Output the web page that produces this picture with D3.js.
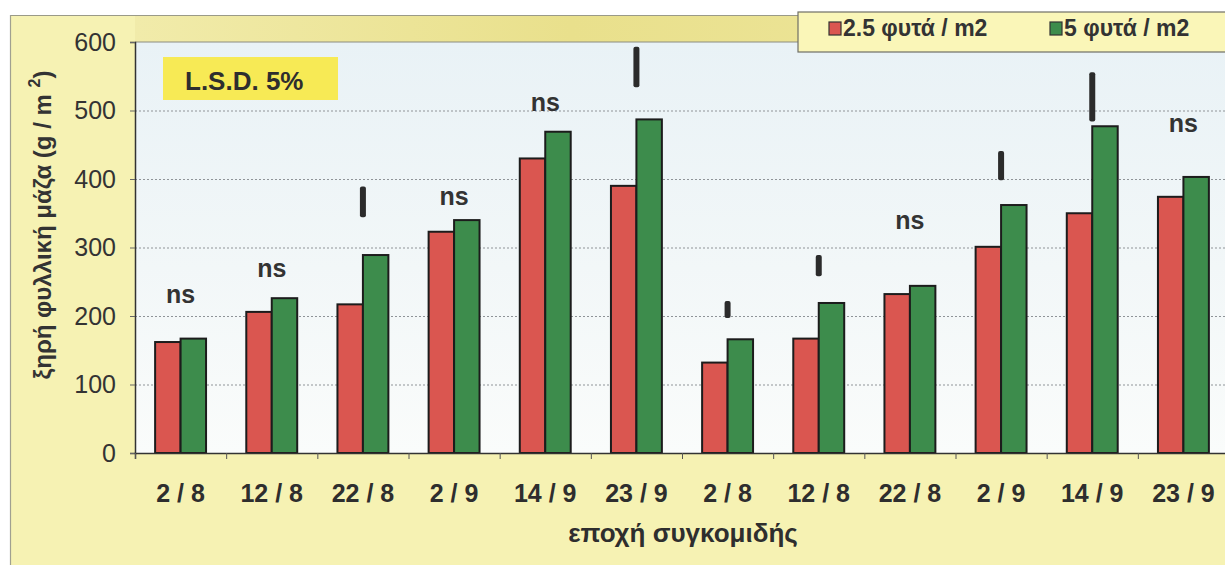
<!DOCTYPE html>
<html>
<head>
<meta charset="utf-8">
<script src="https://cdn.jsdelivr.net/npm/d3@7/dist/d3.min.js"></script>
<style>
  html, body { margin: 0; padding: 0; background: #ffffff; }
  svg { display: block; }
  text { font-family: "Liberation Sans", Arial, sans-serif; }
</style>
</head>
<body>
<svg id="chart" width="1225" height="565"></svg>
<script>
// Harvest dates (two seasons of sampling, six dates each)
const categories = ["2 / 8", "12 / 8", "22 / 8", "2 / 9", "14 / 9", "23 / 9",
                    "2 / 8", "12 / 8", "22 / 8", "2 / 9", "14 / 9", "23 / 9"];
// Dry leaf mass (g / m2) for the two plant densities
const seriesNames = ["2.5 φυτά / m2", "5 φυτά / m2"];
const lowDensity  = [162, 206, 217, 323, 430, 390, 132, 167, 232, 301, 350, 374];
const highDensity = [167, 226, 289, 340, 469, 487, 166, 219, 244, 362, 477, 403];
// Significance per date: "ns" or an L.S.D. (5%) bar
const significance = ["ns", "ns", "lsd", "ns", "ns", "lsd", "lsd", "lsd", "ns", "lsd", "lsd", "ns"];
// L.S.D. value at each date (length of the bar, g / m2)
const lsdValues = [null, null, 45, null, null, 59, 25, 31, null, 43, 72, null];
// Level (g / m2) at which each significance mark sits
const markLevels = [219, 257, 344, 362, 500, 534, 197, 258, 327, 398, 484, 469];
const yTicks = [0, 100, 200, 300, 400, 500, 600];

const svg = d3.select("#chart");
const W = 1225, H = 565;
const plot = { left: 135, right: 1229, top: 42, bottom: 453 };

const defs = svg.append("defs");
const gTop = defs.append("linearGradient").attr("id", "topBand").attr("x1", 0).attr("x2", 1).attr("y1", 0).attr("y2", 0);
gTop.append("stop").attr("offset", "0%").attr("stop-color", "#f1ebaa");
gTop.append("stop").attr("offset", "40%").attr("stop-color", "#e9e08c");
gTop.append("stop").attr("offset", "100%").attr("stop-color", "#efe8a2");
const gPlot = defs.append("linearGradient").attr("id", "plotBg").attr("x1", 0).attr("x2", 0).attr("y1", 0).attr("y2", 1);
gPlot.append("stop").attr("offset", "0%").attr("stop-color", "#e9f2f6");
gPlot.append("stop").attr("offset", "55%").attr("stop-color", "#f2f7f8");
gPlot.append("stop").attr("offset", "100%").attr("stop-color", "#fafcfb");

// Paper background with thin frame
svg.append("rect").attr("x", 10).attr("y", 15).attr("width", W - 10).attr("height", H - 15)
  .attr("fill", "#f6f2b3");
svg.append("line").attr("x1", 10).attr("x2", W).attr("y1", 15.5).attr("y2", 15.5)
  .attr("stroke", "#9a9a88").attr("stroke-width", 1.2);
svg.append("line").attr("x1", 10.5).attr("x2", 10.5).attr("y1", 15).attr("y2", H)
  .attr("stroke", "#a0a090").attr("stroke-width", 1.2);
svg.append("rect").attr("x", plot.left).attr("y", 16).attr("width", W - plot.left).attr("height", plot.top - 16)
  .attr("fill", "url(#topBand)");

// Plot area
svg.append("rect").attr("x", plot.left).attr("y", plot.top)
  .attr("width", plot.right - plot.left).attr("height", plot.bottom - plot.top)
  .attr("fill", "url(#plotBg)");
svg.append("line").attr("x1", plot.left).attr("x2", W).attr("y1", plot.top).attr("y2", plot.top)
  .attr("stroke", "#8c8c80").attr("stroke-width", 1);

const y = d3.scaleLinear().domain([0, 600]).range([plot.bottom, plot.top]);
const x = d3.scaleBand().domain(d3.range(categories.length)).range([plot.left, plot.right]).padding(0);
const xs = d3.scaleBand().domain([0, 1]).range([0, x.bandwidth()]).paddingInner(0).paddingOuter(0.79);
const xEdges = d3.scaleLinear().domain([0, categories.length]).range([plot.left, plot.right]);

// Dotted gridlines
svg.append("g").selectAll("line")
  .data(yTicks.filter(v => v > 0 && v < 600))
  .join("line")
  .attr("x1", plot.left).attr("x2", plot.right)
  .attr("y1", d => y(d) + 0.5).attr("y2", d => y(d) + 0.5)
  .attr("stroke", "#8f9498").attr("stroke-width", 1.2).attr("stroke-dasharray", "2,2");

// Bars
const colors = ["#da5650", "#3d8c4c"];
const values = [lowDensity, highDensity];
const barG = svg.append("g");
values.forEach((vals, s) => {
  barG.selectAll(null)
    .data(vals)
    .join("rect")
    .attr("x", (d, i) => x(i) + xs(s))
    .attr("y", d => y(d))
    .attr("width", xs.bandwidth())
    .attr("height", d => y(0) - y(d))
    .attr("fill", colors[s])
    .attr("stroke", "#1c1c1c")
    .attr("stroke-width", 2);
});

// Y axis
const yAxis = svg.append("g").attr("transform", `translate(${plot.left},0)`)
  .call(d3.axisLeft(y).tickValues(yTicks).tickSize(5).tickPadding(14));
yAxis.select(".domain").attr("stroke", "#333").attr("stroke-width", 1.5);
yAxis.selectAll(".tick line").attr("stroke", "#666");
yAxis.selectAll("text").attr("font-size", 25).attr("fill", "#333")
  .style("font-family", "'Liberation Sans', Arial, sans-serif");

// X axis: tick marks between dates
const xTickAxis = svg.append("g").attr("transform", `translate(0,${plot.bottom})`)
  .call(d3.axisBottom(xEdges).ticks(categories.length).tickSize(6).tickFormat(""));
xTickAxis.select(".domain").attr("stroke", "#333").attr("stroke-width", 1.5);
xTickAxis.selectAll(".tick line").attr("stroke", "#555");

// X axis: date labels
const xLab = svg.append("g").attr("transform", `translate(0,${plot.bottom})`)
  .call(d3.axisBottom(x).tickSize(0).tickPadding(31).tickFormat(i => categories[i]));
xLab.select(".domain").remove();
xLab.selectAll("text").attr("font-size", 25).attr("font-weight", "bold").attr("fill", "#2e2e2e")
  .style("font-family", "'Liberation Sans', Arial, sans-serif");

// Significance marks
const marks = svg.append("g");
significance.forEach((kind, i) => {
  const cx = x(i) + x.bandwidth() / 2;
  if (kind === "ns") {
    marks.append("text").attr("x", cx).attr("y", y(markLevels[i]))
      .attr("text-anchor", "middle").attr("font-size", 25).attr("font-weight", "bold")
      .attr("fill", "#333").text("ns");
  } else {
    const top = y(markLevels[i] + lsdValues[i]);
    marks.append("rect").attr("x", cx - 3).attr("y", top)
      .attr("width", 6).attr("height", y(markLevels[i]) - top)
      .attr("rx", 2).attr("fill", "#2b2b2b");
  }
});

// L.S.D. label box
svg.append("rect").attr("x", 163).attr("y", 57).attr("width", 175).attr("height", 43)
  .attr("fill", "#f7ea55");
svg.append("text").attr("x", 185).attr("y", 90).attr("font-size", 26).attr("font-weight", "bold")
  .attr("fill", "#2e2e2e").text("L.S.D. 5%");

// Legend
const legend = svg.append("g");
legend.append("rect").attr("x", 798).attr("y", 12).attr("width", 440).attr("height", 40)
  .attr("fill", "#faf6b8").attr("stroke", "#6f6f66").attr("stroke-width", 1.2);
const legX = [829, 1050];
seriesNames.forEach((name, s) => {
  legend.append("rect").attr("x", legX[s]).attr("y", 22).attr("width", 12).attr("height", 13)
    .attr("fill", colors[s]).attr("stroke", "#333").attr("stroke-width", 1.2);
  legend.append("text").attr("x", legX[s] + 14).attr("y", 36).attr("font-size", 23)
    .attr("font-weight", "bold").attr("fill", "#333").text(name);
});

// Axis titles
svg.append("text").attr("x", 683).attr("y", 542).attr("text-anchor", "middle")
  .attr("font-size", 26).attr("font-weight", "bold").attr("fill", "#2e2e2e")
  .text("εποχή συγκομιδής");
const yTitle = svg.append("text")
  .attr("transform", "translate(51,225) rotate(-90)")
  .attr("text-anchor", "middle").attr("font-size", 24).attr("font-weight", "bold").attr("fill", "#333");
yTitle.append("tspan").text("ξηρή φυλλική μάζα (g / m ");
yTitle.append("tspan").attr("dy", -11).attr("font-size", 16).text("2");
yTitle.append("tspan").attr("dy", 11).text(")");
</script>
</body>
</html>
